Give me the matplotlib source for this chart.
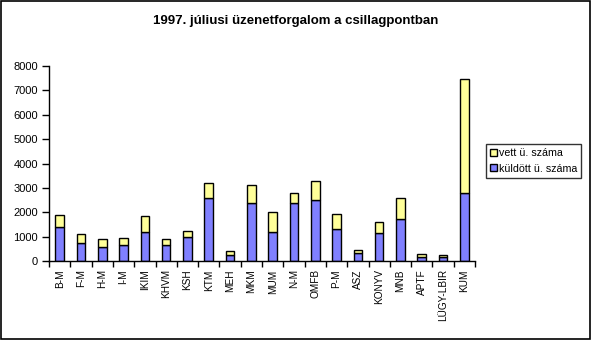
import matplotlib
matplotlib.use('Agg')
import matplotlib.pyplot as plt
import numpy as np
from matplotlib.patches import Rectangle

plt.rcParams['font.family'] = ['Liberation Sans', 'DejaVu Sans']

# 1997 July message traffic per node
categories = ['B-M', 'F-M', 'H-M', 'I-M', 'IKIM', 'KHVM', 'KSH', 'KTM', 'MEH', 'MKM',
              'MUM', 'N-M', 'OMFB', 'P-M', 'ASZ', 'KONYV', 'MNB', 'APTF', 'LÜGY-LBIR', 'KUM']
sent = [1410, 725, 590, 640, 1205, 640, 970, 2570, 235, 2395,
        1175, 2365, 2490, 1300, 315, 1135, 1710, 150, 150, 2775]
total = [1875, 1095, 890, 930, 1835, 890, 1215, 3185, 395, 3105,
         1995, 2775, 3270, 1915, 440, 1585, 2570, 275, 235, 7455]
received = [t - s for t, s in zip(total, sent)]

BLUE = '#8080FF'
YELLOW = '#FFFF99'

fig = plt.figure(figsize=(5.91, 3.40), dpi=100)
ax = fig.add_axes([49 / 591, 1 - 261 / 340, 426 / 591, 195 / 340])

x = np.arange(len(categories))
ax.bar(x, sent, width=0.4, color=BLUE, edgecolor='black', linewidth=1.0,
       label='küldött ü. száma')
ax.bar(x, received, width=0.4, bottom=sent, color=YELLOW, edgecolor='black',
       linewidth=1.0, label='vett ü. száma')

ax.set_xlim(-0.5, len(categories) - 0.5)
ax.set_ylim(0, 8000)
ax.set_yticks(range(0, 8001, 1000))
ax.tick_params(axis='y', labelsize=8, length=5, width=1, direction='out', pad=3)

# category labels centred, tick marks on the boundaries
ax.set_xticks(x)
ax.set_xticklabels(categories, rotation=90, fontsize=7.2)
ax.tick_params(axis='x', which='major', length=0, pad=6)
ax.set_xticks(np.arange(-0.5, len(categories)), minor=True)
ax.tick_params(axis='x', which='minor', length=4, width=1, direction='out')

for side in ('top', 'right'):
    ax.spines[side].set_visible(False)
ax.spines['left'].set_linewidth(1)
ax.spines['bottom'].set_linewidth(1)

handles, labels = ax.get_legend_handles_labels()
leg = fig.legend(handles[::-1], labels[::-1], loc='upper left',
                 bbox_to_anchor=(486 / 591, 1 - 144 / 340), fontsize=7.7,
                 frameon=True, fancybox=False, edgecolor='black',
                 handlelength=0.6, handleheight=0.6, handletextpad=0.2,
                 borderpad=0.4, labelspacing=0.5, borderaxespad=0)
leg.get_frame().set_linewidth(1)

fig.text(0.5, 1 - 21 / 340, '1997. júliusi üzenetforgalom a csillagpontban',
         ha='center', va='center', fontsize=9.5, fontweight='bold')

# outer border of the chart area
fig.patches.append(Rectangle((0.001, 0.002), 0.997, 0.996, transform=fig.transFigure,
                             fill=False, edgecolor='black', linewidth=1.2))

fig.savefig('out.png', dpi=100)
